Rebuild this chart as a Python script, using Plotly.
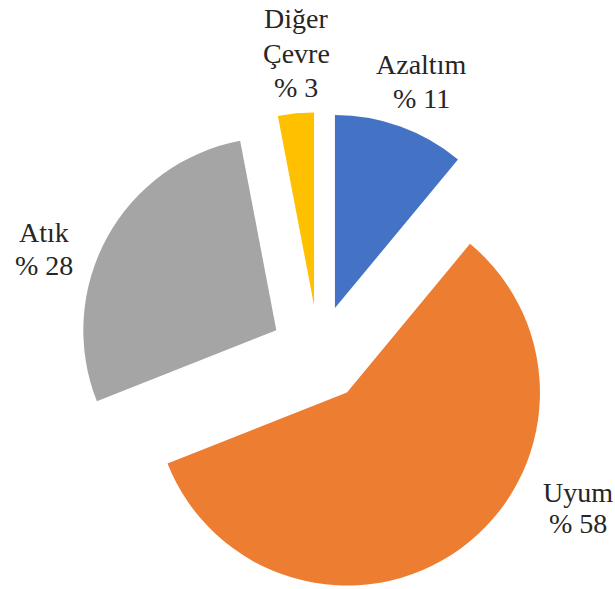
import math
import plotly.graph_objects as go

categories = ["Azaltım", "Uyum", "Atık", "Diğer Çevre"]
values = [11, 58, 28, 3]
colors = ["#4472C4", "#ED7D31", "#A5A5A5", "#FFC000"]
explode = 0.25  # slice pull, as a fraction of the radius

# outside label placement (pixels): centre x and the baseline of each line
label_x = [421, 578, 44, 296]
label_baselines = [[74, 108], [502, 533], [242, 275], [28, 62.5, 97]]

W, H = 615, 589
FS = 28
r = 193
cx, cy = 318.6, 353.5
total = sum(values)

fig = go.Figure()
cum = 0.0
for i, v in enumerate(values):
    # each exploded slice is drawn by its own pie, centred where the pull puts it
    mid = 2 * math.pi * (cum + v / 2) / total
    cum += v
    ax = cx + explode * r * math.sin(mid)
    ay = cy - explode * r * math.cos(mid)
    slice_colors = [c if j == i else "rgba(0,0,0,0)" for j, c in enumerate(colors)]
    fig.add_trace(
        go.Pie(
            labels=categories,
            values=values,
            marker=dict(colors=slice_colors, line=dict(width=0)),
            sort=False,
            direction="clockwise",
            rotation=0,
            textinfo="none",
            hoverinfo="skip" if False else "label+percent",
            showlegend=False,
            domain=dict(
                x=[(ax - r) / W, (ax + r) / W],
                y=[1 - (ay + r) / H, 1 - (ay - r) / H],
            ),
        )
    )

for name, v, lx, bls in zip(categories, values, label_x, label_baselines):
    lines = name.split(" ") + ["% " + str(round(100 * v / total))]
    for line, bl in zip(lines, bls):
        ly = bl - 0.3375 * FS
        fig.add_annotation(
            x=lx / W,
            y=1 - ly / H,
            xref="paper",
            yref="paper",
            text=line,
            showarrow=False,
            xanchor="center",
            yanchor="middle",
            align="center",
            font=dict(family="Liberation Serif, DejaVu Serif, serif",
                      size=FS, color="#262626"),
        )

fig.update_layout(
    width=W,
    height=H,
    margin=dict(l=0, r=0, t=0, b=0),
    paper_bgcolor="white",
    plot_bgcolor="white",
)

fig.write_html(
    "out.html",
    config={"displayModeBar": False},
    post_script="document.body.style.margin='0';document.body.style.overflow='hidden';",
)
